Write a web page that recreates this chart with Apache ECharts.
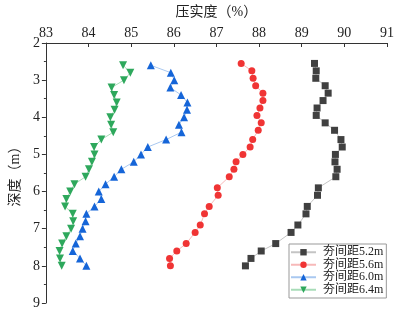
<!DOCTYPE html>
<html lang="zh">
  <head>
    <meta charset="UTF-8" />
    <title>压实度-深度</title>
    <script src="https://cdn.jsdelivr.net/npm/echarts@6/dist/echarts.min.js"></script>
    <style>
      html, body { margin: 0; padding: 0; background: #fff; }
      .echarts { width: 397px; height: 314px; }
    </style>
  </head>
  <body>
    <div class="echarts"></div>
    <script>
      // 深度 (m)
      const depthA = [2.55, 2.75, 2.95, 3.15, 3.35, 3.55, 3.75, 3.95, 4.15, 4.35, 4.6, 4.8, 5.0, 5.2,
                      5.4, 5.6, 5.9, 6.1, 6.4, 6.6, 6.9, 7.1, 7.4, 7.6, 7.8, 8.0]
      const depthB = [2.6, 2.8, 3.0, 3.2, 3.4, 3.6, 3.8, 4.0, 4.2, 4.4, 4.6, 4.8, 5.0, 5.2,
                      5.4, 5.6, 5.8, 6.0, 6.2, 6.4, 6.6, 6.8, 7.0, 7.2, 7.4, 7.6, 7.8, 8.0]

      // 压实度 (%)
      const comp52 = [89.30, 89.34, 89.33, 89.55, 89.62, 89.50, 89.36, 89.34, 89.55, 89.77, 89.92, 89.95, 89.79,
                      89.78, 89.83, 89.80, 89.39, 89.37, 89.13, 89.10, 88.91, 88.75, 88.39, 88.05, 87.81, 87.68]
      const comp56 = [87.58, 87.83, 87.86, 87.92, 88.09, 88.09, 88.02, 87.95, 88.05, 87.98, 87.85, 87.79, 87.62,
                      87.46, 87.41, 87.30, 87.02, 87.04, 86.83, 86.72, 86.62, 86.50, 86.29, 86.07, 85.90, 85.92]
      const comp60 = [85.46, 85.93, 86.01, 85.92, 86.17, 86.32, 86.31, 86.24, 86.12, 86.18, 85.82, 85.39, 85.23, 85.06,
                      84.77, 84.60, 84.40, 84.24, 84.30, 84.14, 83.95, 83.93, 83.86, 83.80, 83.70, 83.63, 83.80, 83.95]
      const comp64 = [84.81, 84.98, 84.83, 84.54, 84.60, 84.66, 84.61, 84.51, 84.53, 84.58, 84.30, 84.13, 84.14, 84.08,
                      84.01, 83.93, 83.67, 83.57, 83.48, 83.45, 83.63, 83.64, 83.59, 83.48, 83.38, 83.32, 83.33, 83.37]

      const names = ['夯间距5.2m', '夯间距5.6m', '夯间距6.0m', '夯间距6.4m']
      const markColors = ['#404040', '#f03434', '#1565d8', '#2ea85c']
      const lineColors = ['#c4c4c4', '#f7b9b9', '#a9c8f0', '#a8dcb8']

      const font = '"Liberation Serif", "Noto Sans CJK SC", serif'
      const zip = (xs, ys) => xs.map((x, i) => [x, ys[i]])

      const myCharts = echarts.init(document.querySelector('.echarts'))

      const makeSeries = (i, xs, ys, symbol, size, rotate) => ({
        name: names[i],
        type: 'line',
        data: zip(xs, ys),
        symbol: symbol,
        symbolSize: size,
        symbolRotate: rotate || 0,
        itemStyle: { color: markColors[i] },
        lineStyle: { color: lineColors[i], width: 1 },
        animation: false
      })

      const option = {
        grid: { left: 36, right: 9, top: 43, bottom: 11 },
        xAxis: {
          type: 'value',
          position: 'top',
          min: 83,
          max: 91,
          interval: 1,
          name: '压实度（%）',
          nameLocation: 'middle',
          nameGap: 24,
          nameTextStyle: { fontFamily: font, fontSize: 14, color: '#222' },
          axisLine: { show: true, lineStyle: { color: '#333', width: 1 } },
          axisTick: { show: true, inside: true, length: 4, lineStyle: { color: '#333' } },
          axisLabel: { fontFamily: font, fontSize: 14, color: '#222', margin: 3 },
          splitLine: { show: false }
        },
        yAxis: {
          type: 'value',
          inverse: true,
          min: 2,
          max: 9,
          interval: 1,
          name: '深度（m）',
          nameLocation: 'middle',
          nameRotate: 90,
          nameGap: 20,
          nameTextStyle: { fontFamily: font, fontSize: 14, color: '#222' },
          axisLine: { show: true, lineStyle: { color: '#333', width: 1 } },
          axisTick: { show: true, inside: false, length: 4, lineStyle: { color: '#333' } },
          minorTick: { show: true, splitNumber: 2, length: 2, lineStyle: { color: '#333' } },
          axisLabel: { fontFamily: font, fontSize: 14, color: '#222', margin: 6 },
          splitLine: { show: false }
        },
        legend: {
          orient: 'vertical',
          left: 289,
          top: 244,
          data: names,
          itemWidth: 25,
          itemHeight: 8,
          itemGap: 0,
          padding: [2, 3, 2, 1],
          borderColor: '#999',
          borderWidth: 1,
          textStyle: { fontFamily: font, fontSize: 12, color: '#222', lineHeight: 12.5, padding: [0, 0, 0, 2] }
        },
        series: [
          makeSeries(0, comp52, depthA, 'rect', 7),
          makeSeries(1, comp56, depthA, 'circle', 7),
          makeSeries(2, comp60, depthB, 'triangle', 8),
          makeSeries(3, comp64, depthB, 'triangle', 8, 180)
        ]
      }
      myCharts.setOption(option)
    </script>
  </body>
</html>
